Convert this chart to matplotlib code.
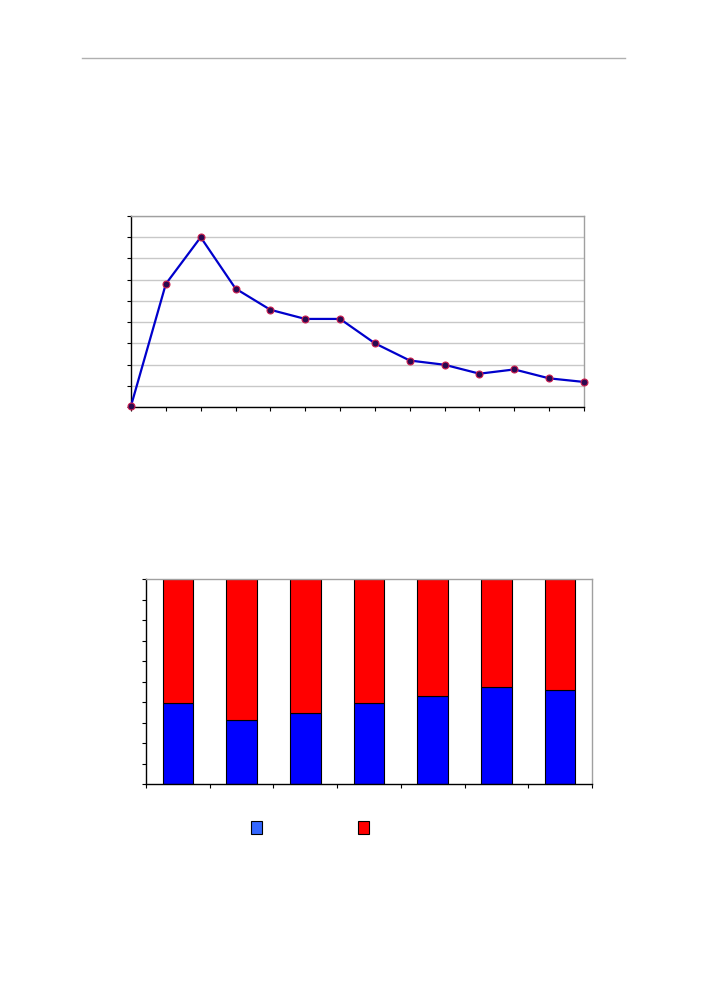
import matplotlib.pyplot as plt
from matplotlib.lines import Line2D
from matplotlib.patches import Rectangle
import numpy as np

# line chart values (14 points, grid units 0..9)
line_values = [0.05, 5.8, 8.0, 5.58, 4.58, 4.15, 4.15, 3.0, 2.19, 1.99, 1.57, 1.77, 1.35, 1.18]

# stacked bar shares (7 categories, percent)
blue_share = [39.4, 31.2, 34.4, 39.3, 42.9, 47.2, 45.8]
red_share = [100 - b for b in blue_share]

fig = plt.figure(figsize=(7.06, 9.99), dpi=100)
W, H = 706, 999


def axes_px(x0, y0, x1, y1):
    return fig.add_axes([x0 / W, 1 - y1 / H, (x1 - x0) / W, (y1 - y0) / H])


# header rule
fig.add_artist(Line2D([82 / W, 625 / W], [1 - 58 / H, 1 - 58 / H],
                      color="#b0b0b0", linewidth=1.0))

# ---- top line chart ----
ax1 = axes_px(131, 216, 584, 407)
x = np.arange(len(line_values))
ax1.plot(x, line_values, color="#0000cc", linewidth=1.6, zorder=3,
         marker="o", markersize=5, markerfacecolor="#2a0a50",
         markeredgecolor="#d02050", markeredgewidth=0.8, clip_on=False)
ax1.set_xlim(0, len(line_values) - 1)
ax1.set_ylim(0, 9)
ax1.set_yticks(range(10))
ax1.set_xticks(x)
ax1.yaxis.grid(True, color="#c8c8c8", linewidth=1.0)
ax1.set_axisbelow(True)
ax1.tick_params(direction="out", length=3, width=0.8, labelleft=False,
                labelbottom=False, color="black")
for s in ["left", "bottom"]:
    ax1.spines[s].set_color("black")
    ax1.spines[s].set_linewidth(1.0)
for s in ["top", "right"]:
    ax1.spines[s].set_color("#a0a0a0")
    ax1.spines[s].set_linewidth(1.0)

# ---- bottom stacked bar chart ----
ax2 = axes_px(146, 579, 592, 784)
cats = np.arange(len(blue_share))
ax2.bar(cats, blue_share, width=0.48, color="#0000ff", edgecolor="black",
        linewidth=0.8)
ax2.bar(cats, red_share, bottom=blue_share, width=0.48, color="#ff0000",
        edgecolor="black", linewidth=0.8)
ax2.set_xlim(-0.5, len(blue_share) - 0.5)
ax2.set_ylim(0, 100)
ax2.set_yticks(range(0, 101, 10))
ax2.set_xticks(np.arange(len(blue_share) + 1) - 0.5)
ax2.tick_params(direction="out", length=3, width=0.8, labelleft=False,
                labelbottom=False, color="black")
for s in ["left", "bottom"]:
    ax2.spines[s].set_color("black")
    ax2.spines[s].set_linewidth(1.0)
for s in ["top", "right"]:
    ax2.spines[s].set_color("#a0a0a0")
    ax2.spines[s].set_linewidth(1.0)

# legend swatches
for x0, col in [(251, "#3366ff"), (358, "#ff0000")]:
    fig.add_artist(Rectangle((x0 / W, 1 - 834 / H), 11 / W, 13 / H,
                             facecolor=col, edgecolor="black", linewidth=0.8,
                             transform=fig.transFigure))

plt.savefig("out.png", dpi=100, facecolor="white")
plt.close()
